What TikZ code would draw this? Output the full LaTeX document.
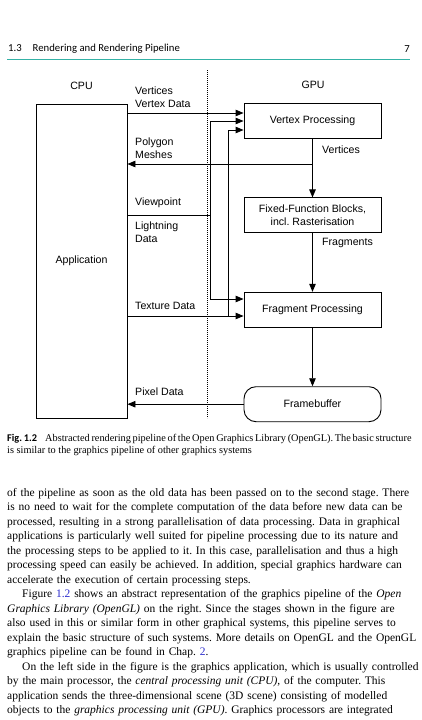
\documentclass[tikz,border=0pt]{standalone}
\usepackage{fontspec}
\setmainfont{Liberation Serif}
\setsansfont{Liberation Sans}
\newfontfamily\headfont{Carlito}
\usetikzlibrary{arrows.meta,positioning}

\definecolor{headteal}{RGB}{52,178,166}
\definecolor{linkblue}{RGB}{45,45,205}

\begin{document}
\frenchspacing
\begin{tikzpicture}[
  x=1pt, y=-1pt,
  node distance=58.5pt,
  box/.style={draw, line width=0.9pt, align=center, minimum width=137pt, minimum height=35pt, font=\sffamily\fontsize{10.6}{13}\selectfont},
  bufbox/.style={box, rounded corners=12pt},
  appbox/.style={draw, line width=0.9pt, minimum width=91pt, minimum height=314pt, font=\sffamily\fontsize{10.6}{13}\selectfont},
  lbl/.style={inner sep=0pt, align=left, font=\sffamily\fontsize{10.6}{13}\selectfont},
  wire/.style={line width=0.9pt},
  arrow/.style={-{Triangle[length=8pt, width=6.5pt]}, line width=0.9pt},
  captext/.style={anchor=base west, inner sep=0pt, font=\fontsize{10.3}{12}\selectfont},
  bodytext/.style={anchor=north west, inner sep=0pt, text width=403pt, align=left, font=\fontsize{11.5}{14.5}\selectfont}
]
\useasboundingbox (0,0) rectangle (421,720);

% running head
\node[anchor=west, inner sep=0pt, font=\headfont\fontsize{10.7}{12}\selectfont] (head) at (8,49) {1.3\hspace{11pt}Rendering and Rendering Pipeline};
\node[anchor=east, inner sep=0pt, font=\headfont\fontsize{10.7}{12}\selectfont] (pageno) at (410,49) {7};
\coordinate (ruleL) at (7,59.5);
\coordinate (ruleR) at (410,59.5);
\draw[headteal, line width=1pt] (ruleL) -- (ruleR);

% CPU side
\node[lbl] (cpu) at (81.5,86) {CPU};
\node[appbox] (app) at (81.5,261) {Application};

% CPU / GPU border
\coordinate (sepTop) at (207,70);
\coordinate (sepBot) at (207,418);
\draw[line width=0.9pt, dash pattern=on 0.9pt off 1.1pt] (sepTop) -- (sepBot);

% GPU side
\node[lbl] (gpu) at (313,85) {GPU};
\node[box] (vp) at (312.5,121) {Vertex Processing};
\node[box, below=of vp] (ff) {Fixed-Function Blocks,\\incl. Rasterisation};
\node[box, below=of ff] (fp) {Fragment Processing};
\node[bufbox, below=of fp] (fb) {Framebuffer};

% data labels
\node[lbl, anchor=west] (lvert) at (135,97.5) {Vertices\\Vertex Data};
\node[lbl, anchor=west] (lmesh) at (135,148) {Polygon\\Meshes};
\node[lbl, anchor=west] (lview) at (135,203) {Viewpoint};
\node[lbl, anchor=west] (llight) at (135,232.5) {Lightning\\Data};
\node[lbl, anchor=west] (ltex) at (135,306) {Texture Data};
\node[lbl, anchor=west] (lpix) at (135,391.5) {Pixel Data};
\node[lbl, anchor=west] (lvtx) at (322,150) {Vertices};
\node[lbl, anchor=west] (lfrag) at (322,243) {Fragments};

% connectors
\coordinate (vinA) at (vp.west |- 0,113);
\coordinate (vinB) at (vp.west |- 0,121);
\coordinate (vinC) at (vp.west |- 0,130);
\coordinate (finA) at (fp.west |- 0,299);
\coordinate (finB) at (fp.west |- 0,316);
\coordinate (pm) at (vp.south |- 0,164);
\coordinate (jv) at (210,215);
\coordinate (jt) at (228,316);

\draw[arrow] (app.east |- vinA) -- (vinA);
\draw[arrow] (pm) -- (app.east |- pm);
\draw[wire] (app.east |- jv) -- (jv);
\draw[arrow] (jv) |- (vinB);
\draw[arrow] (jv) |- (finA);
\draw[arrow] (app.east |- finB) -- (finB);
\draw[arrow] (jt) |- (vinC);
\draw[arrow] (vp) -- (ff);
\draw[arrow] (ff) -- (fp);
\draw[arrow] (fp) -- (fb);
\draw[arrow] (fb) -- (app.east |- fb);

% caption
\node[captext, font=\headfont\bfseries\fontsize{10.3}{12}\selectfont] (figno) at (7,441.5) {Fig.\,1.2};
\node[captext] (cap1) at (45,441.5) {\makebox[365pt][s]{Abstracted rendering pipeline of the Open Graphics Library (OpenGL). The basic structure}};
\node[captext] (cap2) at (7,453.5) {is similar to the graphics pipeline of other graphics systems};

% body text
\node[bodytext] (body) at (7,488) {%
\makebox[\linewidth][s]{of the pipeline as soon as the old data has been passed on to the second stage. There}\\
\makebox[\linewidth][s]{is no need to wait for the complete computation of the data before new data can be}\\
\makebox[\linewidth][s]{processed, resulting in a strong parallelisation of data processing. Data in graphical}\\
\makebox[\linewidth][s]{applications is particularly well suited for pipeline processing due to its nature and}\\
\makebox[\linewidth][s]{the processing steps to be applied to it. In this case, parallelisation and thus a high}\\
\makebox[\linewidth][s]{processing speed can easily be achieved. In addition, special graphics hardware can}\\
\makebox[\linewidth][s]{accelerate the execution of certain processing steps.\hfill}\\
\makebox[\linewidth][s]{\hspace*{15pt}Figure \textcolor{linkblue}{1.2} shows an abstract representation of the graphics pipeline of the \textit{Open}}\\
\makebox[\linewidth][s]{\textit{Graphics Library (OpenGL)} on the right. Since the stages shown in the figure are}\\
\makebox[\linewidth][s]{also used in this or similar form in other graphical systems, this pipeline serves to}\\
\makebox[\linewidth][s]{explain the basic structure of such systems. More details on OpenGL and the OpenGL}\\
\makebox[\linewidth][s]{graphics pipeline can be found in Chap. \textcolor{linkblue}{2}.\hfill}\\
\makebox[\linewidth][s]{\hspace*{15pt}On the left side in the figure is the graphics application, which is usually controlled}\\
\makebox[\linewidth][s]{by the main processor, the \textit{central processing unit (CPU)}, of the computer. This}\\
\makebox[\linewidth][s]{application sends the three-dimensional scene (3D scene) consisting of modelled}\\
\makebox[\linewidth][s]{objects to the \textit{graphics processing unit (GPU)}. Graphics processors are integrated}};
\end{tikzpicture}
\end{document}
